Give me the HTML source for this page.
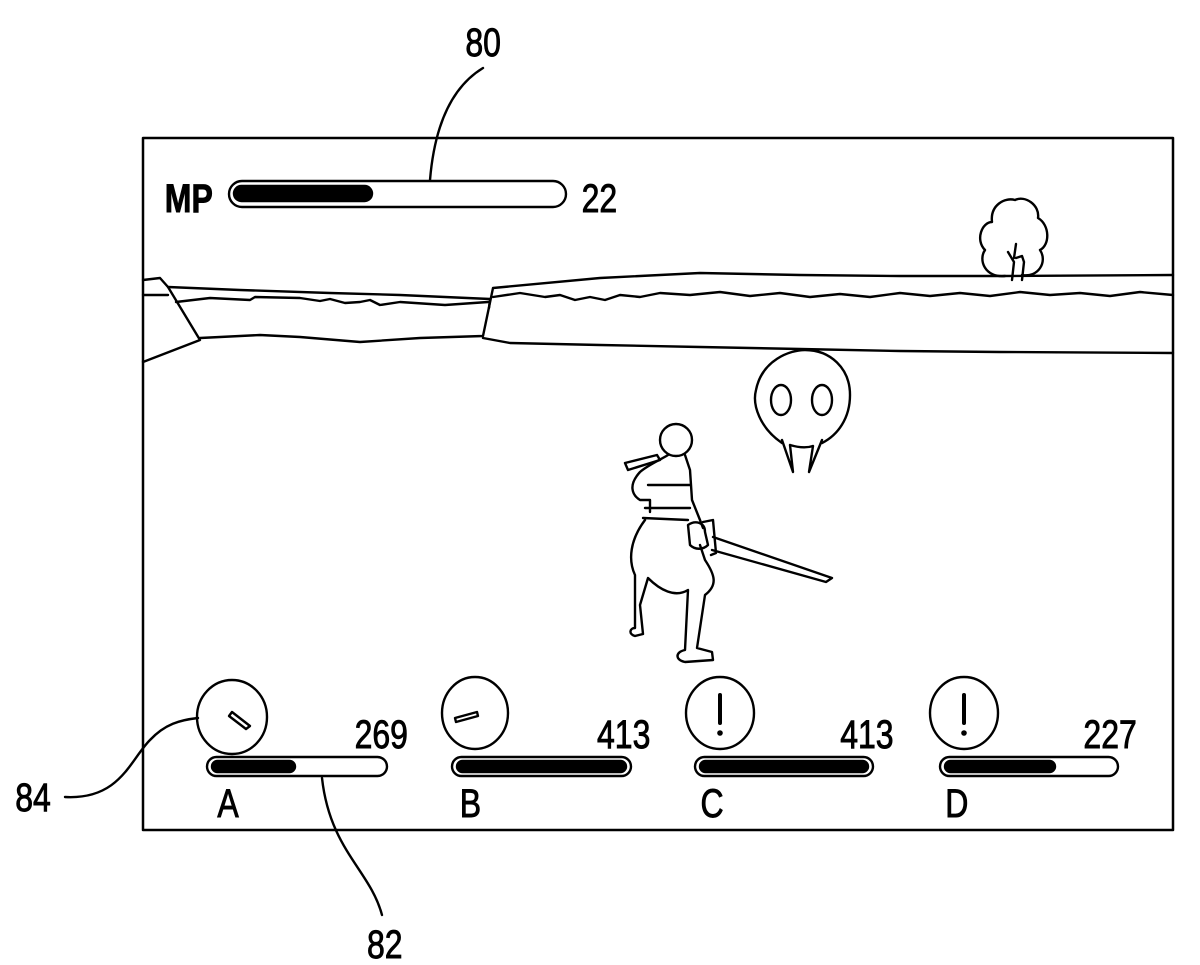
<!DOCTYPE html>
<html><head><meta charset="utf-8"><style>
html,body{margin:0;padding:0;background:#fff;}
svg{display:block;}
text{font-family:"Liberation Sans",sans-serif;fill:#000;stroke:#000;stroke-width:0.9;}
</style></head><body>
<svg width="1200" height="965" viewBox="0 0 1200 965" xmlns="http://www.w3.org/2000/svg">
<g fill="none" stroke="#000" stroke-width="2.4" stroke-linejoin="round" stroke-linecap="round">
<rect x="143" y="138" width="1030" height="692" stroke-width="2.5"/>
<path d="M483,68 C455,85 435,120 430,180"/>
<path d="M65,797 C120,800 130,760 150,740 C165,724 180,720 198,718"/>
<path d="M322,778 C330,850 370,870 382,915"/>
<rect x="229" y="181" width="337" height="26" rx="13"/>
<rect x="234" y="186" width="138" height="15" rx="7.5" fill="#000"/>
<path d="M143,280 L160,278 L168,287 L200,340 L143,362"/>
<path d="M143,295 L168,295"/>
<path d="M168,287 L240,290 L330,293 L400,295 L490,299 L489,308"/>
<path d="M176,302 L210,298 L250,300 L255,297 L300,298 L320,301 L330,299 L345,303 L360,302 L370,300 L380,305 L400,302 L445,305 L488,302"/>
<path d="M200,338 L260,335 L300,337 L360,342 L420,338 L483,336 L493,288 L600,278 L700,273 L800,275 L900,276 L1000,276 L1173,275"/>
<path d="M483,338 L510,343 L600,345 L700,347 L800,349 L900,351 L1000,352 L1173,353"/>
<path d="M493,297 L520,293 L545,297 L560,295 L575,300 L590,297 L605,300 L620,295 L640,297 L660,293 L690,295 L720,292 L750,296 L780,293 L810,297 L840,294 L870,297 L900,293 L930,296 L960,293 L990,296 L1020,292 L1050,295 L1080,293 L1110,296 L1140,292 L1173,295"/>
<path d="M1005,276 C985,278 978,260 985,250 C975,240 982,222 992,222 C990,205 1005,197 1015,200 C1025,195 1040,205 1038,218 C1050,225 1050,245 1040,250 C1048,262 1038,278 1022,275"/>
<path d="M1012,280 L1014,262 L1008,252 M1014,258 L1016,244 M1016,258 L1022,256 L1024,262 L1022,280"/>
<!-- skull -->
<path d="M782,443 C760,428 752,405 756,390 C762,360 790,350 805,350 C830,350 850,368 850,395 C850,418 838,435 822,443"/>
<ellipse cx="781" cy="400" rx="10" ry="15"/>
<ellipse cx="822" cy="400" rx="10" ry="15"/>
<path d="M782,440 L793,472 L790,445 M822,440 L809,472 L813,446 M790,445 C800,448 807,448 813,446"/>
<!-- character -->
<circle cx="676" cy="440" r="16"/>
<path d="M625,463 L657,455 L660,460 L628,470 Z"/>
<path d="M668,455 C660,460 648,465 640,472 C628,485 632,495 640,500 L650,500 L650,512"/>
<path d="M685,455 L690,470 L692,500 L700,520 L703,528"/>
<path d="M648,485 L690,485 M645,508 L690,508 M643,518 L688,520"/>
<path d="M645,520 C630,540 628,560 635,575 L635,628 C630,628 628,634 635,636 L643,634 L640,605 L648,578 C660,590 675,598 688,590 L685,650 C675,652 675,660 685,662 L713,660 L712,652 L697,648 L705,595 C718,585 715,575 705,560 L700,545"/>
<path d="M688,525 C695,520 705,522 705,532 L708,545 C703,550 695,550 690,545 Z"/>
<path d="M703,522 L713,520 L716,553 L711,555"/>
<path d="M713,537 L832,578 L826,582 L712,550"/>
<ellipse cx="232" cy="717" rx="35" ry="37"/>
<path d="M232,712 L250,726 L246,729 L229,716 Z"/>
<ellipse cx="475" cy="713" rx="33" ry="36"/>
<path d="M455,718 L477,712 L478,716 L456,722 Z"/>
<ellipse cx="720" cy="713" rx="34" ry="36"/>
<ellipse cx="964" cy="713" rx="34" ry="36"/>
<rect x="207" y="757" width="180" height="19" rx="9.5"/>
<rect x="212" y="761" width="83" height="11" rx="5.5" fill="#000"/>
<rect x="452" y="757" width="179" height="19" rx="9.5"/>
<rect x="457" y="761" width="169" height="11" rx="5.5" fill="#000"/>
<rect x="695" y="757" width="178" height="19" rx="9.5"/>
<rect x="700" y="761" width="168" height="11" rx="5.5" fill="#000"/>
<rect x="940" y="757" width="178" height="19" rx="9.5"/>
<rect x="945" y="761" width="110" height="11" rx="5.5" fill="#000"/>
<!-- exclamation marks -->
<path d="M720,695 L720,723 M964,695 L964,723" stroke-width="4"/>
</g>
<circle cx="720" cy="733" r="2.8"/>
<circle cx="964" cy="733" r="2.8"/>
<g font-size="40" transform="scale(0.8,1)">
<text x="604" y="56" text-anchor="middle">80</text>
<text x="19" y="811">84</text>
<text x="481" y="958" text-anchor="middle">82</text>
<text x="206" y="212" font-weight="bold" stroke-width="0.4">MP</text>
<text x="727" y="212">22</text>
<text x="510" y="748" text-anchor="end">269</text>
<text x="813" y="748" text-anchor="end">413</text>
<text x="1117" y="748" text-anchor="end">413</text>
<text x="1421" y="748" text-anchor="end">227</text>
<text x="285" y="817" text-anchor="middle">A</text>
<text x="588" y="817" text-anchor="middle">B</text>
<text x="890" y="817" text-anchor="middle">C</text>
<text x="1196" y="817" text-anchor="middle">D</text>
</g>
</svg>
</body></html>
